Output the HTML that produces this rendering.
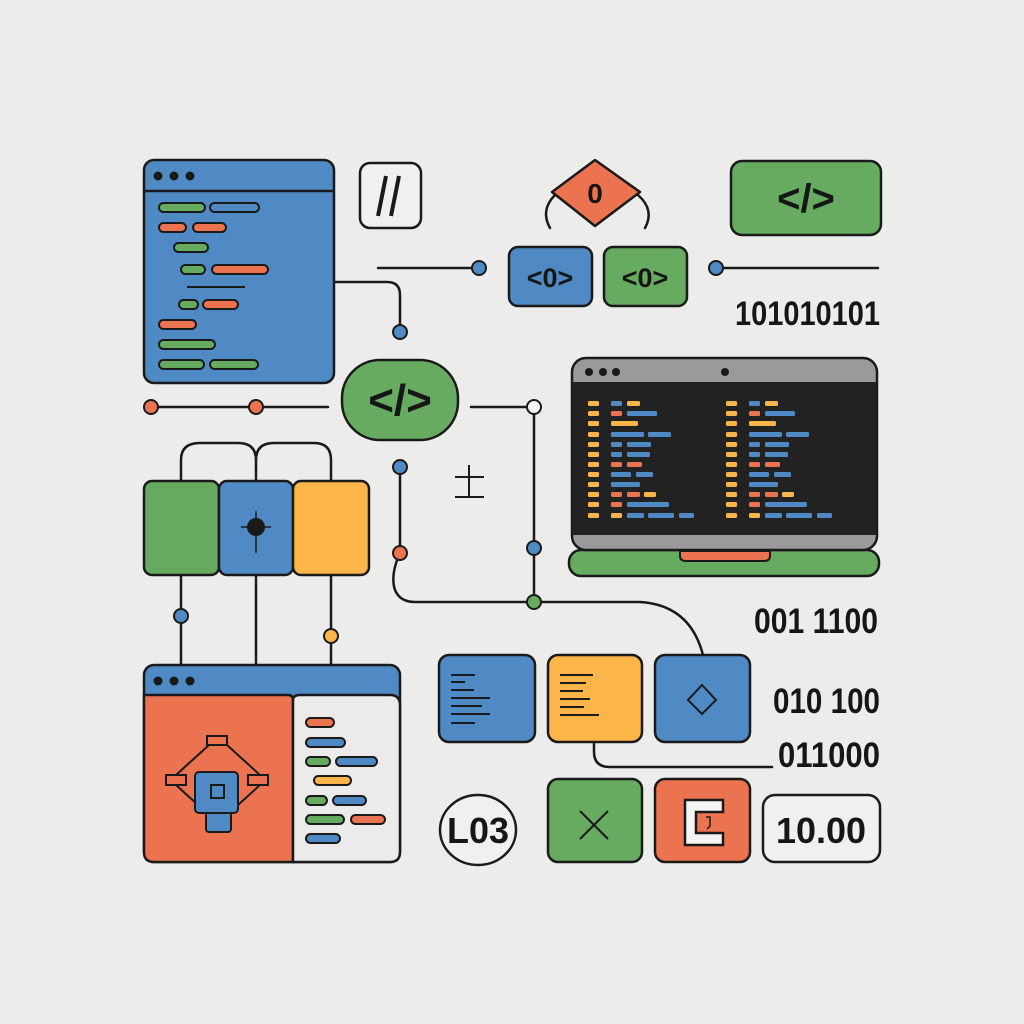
<!DOCTYPE html>
<html><head><meta charset="utf-8"><style>
html,body{margin:0;padding:0;background:#ececeb;}
svg{display:block}
text{font-family:"Liberation Sans",sans-serif;font-weight:bold;fill:#161616}
</style></head><body>
<svg width="1024" height="1024" viewBox="0 0 1024 1024" xmlns="http://www.w3.org/2000/svg">
<rect width="1024" height="1024" fill="#ececeb"/>
<g stroke="#1a1a1a" stroke-width="2.5" stroke-linecap="round" fill="none">
<!-- connectors -->
<path d="M334 282 H387 Q400 282 400 295 V325"/>
<path d="M378 268 H472"/>
<path d="M723 268 H878"/>
<path d="M151 407 H328"/>
<path d="M471 407 H527"/>
<path d="M534 414 V602"/>
<path d="M400 467 V553 Q390 575 395 590 Q400 602 415 602 H640 Q690 605 703 655"/>
<path d="M594 742 V752 Q594 767 610 767 H772"/>
<path d="M550 228 Q540 210 555 195"/>
<path d="M645 228 Q655 210 638 195"/>
<path d="M181 481 V460 Q181 443 200 443 H238 Q256 443 256 460 V481"/>
<path d="M256 460 Q256 443 274 443 H314 Q331 443 331 460 V481"/>
<path d="M181 575 V665 M256 575 V665 M331 575 V665"/>
</g>
<!-- top-left window -->
<g stroke="#1a1a1a" stroke-width="2.5">
<rect x="144" y="160" width="190" height="223" rx="10" fill="#4f8ac4"/>
<line x1="144" y1="191" x2="334" y2="191"/>
</g>
<g fill="#1a1a1a"><circle cx="158" cy="176" r="4.5"/><circle cx="174" cy="176" r="4.5"/><circle cx="190" cy="176" r="4.5"/></g>
<g stroke="#1a1a1a" stroke-width="2">
<rect x="159" y="203" width="46" height="9" rx="4.5" fill="#66ab5f"/>
<rect x="210" y="203" width="49" height="9" rx="4.5" fill="#4f8ac4"/>
<rect x="159" y="223" width="27" height="9" rx="4.5" fill="#ec7350"/>
<rect x="193" y="223" width="33" height="9" rx="4.5" fill="#ec7350"/>
<rect x="174" y="243" width="34" height="9" rx="4.5" fill="#66ab5f"/>
<rect x="181" y="265" width="24" height="9" rx="4.5" fill="#66ab5f"/>
<rect x="212" y="265" width="56" height="9" rx="4.5" fill="#ec7350"/>
<line x1="187" y1="287" x2="245" y2="287"/>
<rect x="179" y="300" width="19" height="9" rx="4.5" fill="#66ab5f"/>
<rect x="203" y="300" width="35" height="9" rx="4.5" fill="#ec7350"/>
<rect x="159" y="320" width="37" height="9" rx="4.5" fill="#ec7350"/>
<rect x="159" y="340" width="56" height="9" rx="4.5" fill="#66ab5f"/>
<rect x="159" y="360" width="45" height="9" rx="4.5" fill="#66ab5f"/>
<rect x="210" y="360" width="48" height="9" rx="4.5" fill="#66ab5f"/>
</g>
<!-- // box -->
<rect x="360" y="163" width="61" height="65" rx="10" fill="#f0f0ef" stroke="#1a1a1a" stroke-width="2.5"/>
<g stroke="#1a1a1a" stroke-width="4"><line x1="386" y1="176" x2="378" y2="216"/><line x1="399" y1="176" x2="391" y2="216"/></g>
<!-- diamond -->
<path d="M595 160 L640 192 L595 226 L552 192 Z" fill="#ec7350" stroke="#1a1a1a" stroke-width="2.5" stroke-linejoin="round"/>
<text x="595" y="203" font-size="28" text-anchor="middle">0</text>
<g stroke="#1a1a1a" stroke-width="2.5">
<rect x="509" y="247" width="83" height="59" rx="9" fill="#4f8ac4"/>
<rect x="604" y="247" width="83" height="59" rx="9" fill="#66ab5f"/>
<rect x="731" y="161" width="150" height="74" rx="11" fill="#66ab5f"/>
<rect x="342" y="360" width="116" height="80" rx="38" fill="#66ab5f"/>
</g>
<text x="550" y="287" font-size="27" text-anchor="middle">&lt;0&gt;</text>
<text x="645" y="287" font-size="27" text-anchor="middle">&lt;0&gt;</text>
<text x="806" y="212" font-size="40" text-anchor="middle">&lt;/&gt;</text>
<text x="400" y="415" font-size="44" text-anchor="middle">&lt;/&gt;</text>
<text x="735" y="325" font-size="34" textLength="145" lengthAdjust="spacingAndGlyphs">101010101</text>
<!-- dots -->
<g stroke="#1a1a1a" stroke-width="2">
<circle cx="400" cy="332" r="7" fill="#4f8ac4"/>
<circle cx="479" cy="268" r="7" fill="#4f8ac4"/>
<circle cx="716" cy="268" r="7" fill="#4f8ac4"/>
<circle cx="151" cy="407" r="7" fill="#ec7350"/>
<circle cx="256" cy="407" r="7" fill="#ec7350"/>
<circle cx="534" cy="407" r="7" fill="#f4f4f3"/>
<circle cx="400" cy="467" r="7" fill="#4f8ac4"/>
<circle cx="400" cy="553" r="7" fill="#ec7350"/>
<circle cx="534" cy="548" r="7" fill="#4f8ac4"/>
<circle cx="534" cy="602" r="7" fill="#66ab5f"/>
<circle cx="181" cy="616" r="7" fill="#4f8ac4"/>
<circle cx="331" cy="636" r="7" fill="#fbb548"/>
</g>
<!-- ± -->
<g stroke="#1a1a1a" stroke-width="2"><line x1="469" y1="465" x2="469" y2="497"/><line x1="455" y1="477" x2="484" y2="477"/><line x1="455" y1="497" x2="484" y2="497"/></g>
<!-- three boxes -->
<g stroke="#1a1a1a" stroke-width="2.5">
<rect x="144" y="481" width="75" height="94" rx="8" fill="#66ab5f"/>
<rect x="219" y="481" width="74" height="94" rx="8" fill="#4f8ac4"/>
<rect x="293" y="481" width="76" height="94" rx="8" fill="#fbb548"/>
</g>
<circle cx="256" cy="527" r="9" fill="#1a1a1a"/>
<g stroke="#1a1a1a" stroke-width="1.5"><line x1="256" y1="511" x2="256" y2="553"/><line x1="241" y1="527" x2="271" y2="527"/></g>
<!-- laptop -->
<g stroke="#1a1a1a" stroke-width="2.5">
<rect x="569" y="550" width="310" height="26" rx="12" fill="#66ab5f"/>
<rect x="572" y="358" width="305" height="192" rx="14" fill="#9a9a9a"/>
<rect x="573" y="382" width="303" height="153" fill="#222222" stroke="none"/>
<path d="M680 551 H770 V556 Q770 561 764 561 H686 Q680 561 680 556 Z" fill="#ec7350" stroke-width="2"/>
</g>
<g fill="#1a1a1a"><circle cx="589" cy="372" r="4"/><circle cx="603" cy="372" r="4"/><circle cx="616" cy="372" r="4"/><circle cx="725" cy="372" r="4"/></g>
<g id="code">
<g fill="#fbb548"><rect x="588" y="401" width="11" height="5" rx="1.5"/><rect x="588" y="411" width="11" height="5" rx="1.5"/><rect x="588" y="421" width="11" height="5" rx="1.5"/><rect x="588" y="432" width="11" height="5" rx="1.5"/><rect x="588" y="442" width="11" height="5" rx="1.5"/><rect x="588" y="452" width="11" height="5" rx="1.5"/><rect x="588" y="462" width="11" height="5" rx="1.5"/><rect x="588" y="472" width="11" height="5" rx="1.5"/><rect x="588" y="482" width="11" height="5" rx="1.5"/><rect x="588" y="492" width="11" height="5" rx="1.5"/><rect x="588" y="502" width="11" height="5" rx="1.5"/><rect x="588" y="513" width="11" height="5" rx="1.5"/>
<rect x="627" y="401" width="13" height="5" rx="1.5"/><rect x="611" y="421" width="27" height="5" rx="1.5"/><rect x="644" y="492" width="12" height="5" rx="1.5"/><rect x="611" y="513" width="11" height="5" rx="1.5"/></g>
<g fill="#4f8ac4"><rect x="611" y="401" width="11" height="5" rx="1.5"/><rect x="627" y="411" width="30" height="5" rx="1.5"/><rect x="611" y="432" width="33" height="5" rx="1.5"/><rect x="648" y="432" width="23" height="5" rx="1.5"/><rect x="611" y="442" width="11" height="5" rx="1.5"/><rect x="627" y="442" width="24" height="5" rx="1.5"/><rect x="611" y="452" width="11" height="5" rx="1.5"/><rect x="627" y="452" width="23" height="5" rx="1.5"/><rect x="611" y="472" width="20" height="5" rx="1.5"/><rect x="636" y="472" width="17" height="5" rx="1.5"/><rect x="611" y="482" width="29" height="5" rx="1.5"/><rect x="627" y="502" width="42" height="5" rx="1.5"/><rect x="627" y="513" width="17" height="5" rx="1.5"/><rect x="648" y="513" width="26" height="5" rx="1.5"/><rect x="679" y="513" width="15" height="5" rx="1.5"/></g>
<g fill="#ec7350"><rect x="611" y="411" width="11" height="5" rx="1.5"/><rect x="611" y="462" width="11" height="5" rx="1.5"/><rect x="627" y="462" width="15" height="5" rx="1.5"/><rect x="611" y="492" width="11" height="5" rx="1.5"/><rect x="627" y="492" width="13" height="5" rx="1.5"/><rect x="611" y="502" width="11" height="5" rx="1.5"/></g>
</g>
<use href="#code" x="138"/>
<text x="754" y="633" font-size="35" textLength="124" lengthAdjust="spacingAndGlyphs">001 1100</text>
<text x="773" y="713" font-size="35" textLength="107" lengthAdjust="spacingAndGlyphs">010 100</text>
<text x="778" y="767" font-size="35" textLength="102" lengthAdjust="spacingAndGlyphs">011000</text>
<!-- bottom-left window -->
<g stroke="#1a1a1a" stroke-width="2.5">
<rect x="144" y="665" width="256" height="197" rx="10" fill="#4f8ac4"/>
<path d="M144 695 H288 Q293 695 293 700 V862 H154 Q144 862 144 852 Z" fill="#ec7350"/>
<path d="M293 700 Q293 695 300 695 H390 Q400 695 400 705 V852 Q400 862 390 862 H293 Z" fill="#ecebea"/>
</g>
<g fill="#1a1a1a"><circle cx="158" cy="681" r="4.5"/><circle cx="174" cy="681" r="4.5"/><circle cx="190" cy="681" r="4.5"/></g>
<g stroke="#1a1a1a" stroke-width="2">
<rect x="306" y="718" width="28" height="9" rx="4.5" fill="#ec7350"/>
<rect x="306" y="738" width="39" height="9" rx="4.5" fill="#4f8ac4"/>
<rect x="306" y="757" width="24" height="9" rx="4.5" fill="#66ab5f"/>
<rect x="336" y="757" width="41" height="9" rx="4.5" fill="#4f8ac4"/>
<rect x="314" y="776" width="37" height="9" rx="4.5" fill="#fbb548"/>
<rect x="306" y="796" width="21" height="9" rx="4.5" fill="#66ab5f"/>
<rect x="333" y="796" width="33" height="9" rx="4.5" fill="#4f8ac4"/>
<rect x="306" y="815" width="38" height="9" rx="4.5" fill="#66ab5f"/>
<rect x="351" y="815" width="34" height="9" rx="4.5" fill="#ec7350"/>
<rect x="306" y="834" width="34" height="9" rx="4.5" fill="#4f8ac4"/>
<path d="M209 745 L176 775 M227 745 L260 775 M176 785 L198 805 M260 785 L238 805" fill="none"/>
<rect x="207" y="736" width="20" height="9" fill="#ec7350"/>
<rect x="166" y="775" width="20" height="10" fill="#ec7350"/>
<rect x="248" y="775" width="20" height="10" fill="#ec7350"/>
<rect x="206" y="810" width="25" height="22" rx="3" fill="#4f8ac4"/>
<rect x="195" y="772" width="43" height="41" rx="4" fill="#4f8ac4"/>
<rect x="211" y="785" width="13" height="13" fill="#4f8ac4"/>
</g>
<!-- bottom middle boxes -->
<g stroke="#1a1a1a" stroke-width="2.5">
<rect x="439" y="655" width="96" height="87" rx="10" fill="#4f8ac4"/>
<rect x="548" y="655" width="94" height="87" rx="10" fill="#fbb548"/>
<rect x="655" y="655" width="95" height="87" rx="10" fill="#4f8ac4"/>
<rect x="548" y="779" width="94" height="83" rx="10" fill="#66ab5f"/>
<rect x="655" y="779" width="95" height="83" rx="10" fill="#ec7350"/>
<rect x="763" y="795" width="117" height="67" rx="12" fill="#f0f0ef"/>
<ellipse cx="478" cy="830" rx="38" ry="35" fill="#f0f0ef"/>
</g>
<g stroke="#1a1a1a" stroke-width="2">
<path d="M451 675 H475 M451 682 H465 M451 690 H474 M451 698 H490 M451 706 H482 M451 714 H490 M451 723 H475"/>
<path d="M560 675 H593 M560 683 H586 M560 691 H583 M560 699 H590 M560 707 H584 M560 715 H599"/>
<path d="M702 685 L716 700 L702 714 L688 700 Z" fill="none"/>
<path d="M580 811 L608 839 M608 811 L580 839"/>
</g>
<path d="M685 800 H723 V812 H696 V833 H723 V845 H685 Z" fill="#f4f4f3" stroke="#1a1a1a" stroke-width="2.5"/>
<path d="M706 817 H710 V826 L707 829" fill="none" stroke="#1a1a1a" stroke-width="1.5"/>
<text x="478" y="843" font-size="36" text-anchor="middle" textLength="62" lengthAdjust="spacingAndGlyphs">L03</text>
<text x="821" y="843" font-size="36" text-anchor="middle" textLength="90" lengthAdjust="spacingAndGlyphs">10.00</text>
</svg>
</body></html>
